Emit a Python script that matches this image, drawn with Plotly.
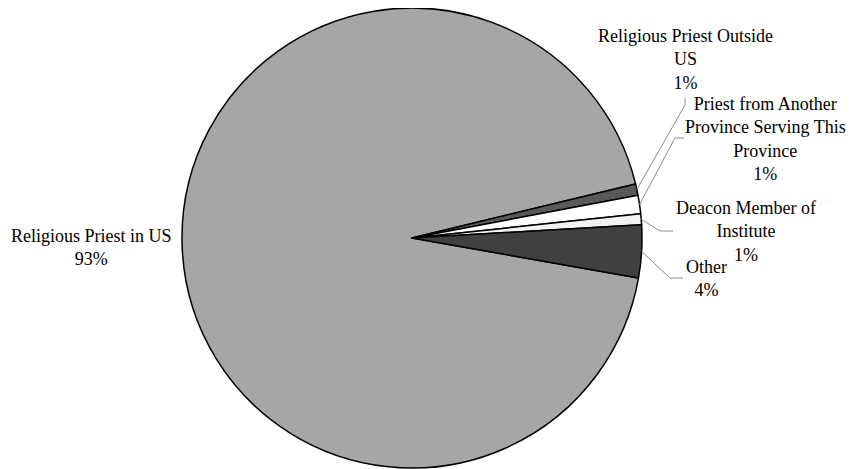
import math
import plotly.graph_objects as go

# ---- data ----
labels = ["Religious Priest in US", "Religious Priest Outside US",
          "Priest from Another Province Serving This Province",
          "Deacon Member of Institute", "Other"]
label_text = ["Religious Priest in US<br>93%",
              "Religious Priest Outside<br>US<br>1%",
              "Priest from Another<br>Province Serving This<br>Province<br>1%",
              "Deacon Member of<br>Institute<br>1%",
              "Other<br>4%"]
values = [93.4, 0.8, 1.3, 0.75, 3.7]
colors = ["#a6a6a6", "#595959", "#ffffff", "#f2f2f2", "#404040"]

# ---- layout constants (pixels, in the browser window) ----
OFF = 8                      # page body margin
W, H = 856 - OFF, 469 - OFF  # figure size
CX, CY, R = 412, 238, 230
ROTATION = 100
label_pos = [(91, 248), (685, 59), (765, 139), (746, 231), (706, 278)]
leaders = [None,
           [(685, 105), (685, 98)],
           [(675, 138), (684, 138)],
           [(660, 231), (673, 231)],
           [(670, 278), (683, 278)]]

def fx(x):
    return (x - OFF) / W

def fy(y):
    return 1 - (y - OFF) / H

fig = go.Figure(go.Pie(
    labels=labels, values=values, sort=False, direction="clockwise",
    rotation=ROTATION, textinfo="none", hoverinfo="label+percent",
    marker=dict(colors=colors, line=dict(color="#000000", width=1.5)),
    domain=dict(x=[fx(CX - R), fx(CX + R)], y=[fy(CY + R), fy(CY - R)]),
    showlegend=False,
))

total = sum(values)
start = ROTATION
annotations = []
shapes = []
for i, v in enumerate(values):
    span = v / total * 360
    mid_cw = start + span / 2
    start += span
    a = math.radians(90 - mid_cw)
    rx, ry = CX + R * math.cos(a), CY - R * math.sin(a)
    lx, ly = label_pos[i]
    annotations.append(dict(x=fx(lx), y=fy(ly), xref="paper", yref="paper", text=label_text[i],
                            showarrow=False, align="center", xanchor="center", yanchor="middle",
                            font=dict(family="Liberation Serif, Times New Roman, serif", size=18, color="#000")))
    if leaders[i]:
        pts = [(rx, ry)] + leaders[i]
        for (x0, y0), (x1, y1) in zip(pts[:-1], pts[1:]):
            shapes.append(dict(type="line", xref="paper", yref="paper",
                               x0=fx(x0), y0=fy(y0), x1=fx(x1), y1=fy(y1),
                               line=dict(color="#8c8c8c", width=1)))

fig.update_layout(width=W, height=H, margin=dict(l=0, r=0, t=0, b=0),
                  paper_bgcolor="#ffffff", plot_bgcolor="#ffffff",
                  annotations=annotations, shapes=shapes)
fig.write_html("out.html")
